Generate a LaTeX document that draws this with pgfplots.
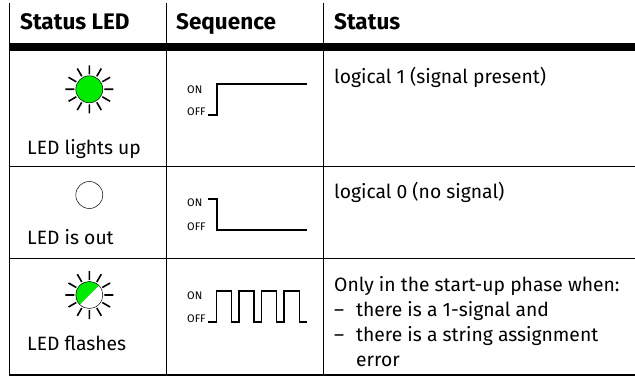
\documentclass[border=0pt]{standalone}
\usepackage{pgfplots}
\usepackage{fontspec}
\setmainfont{Fira Sans}
\pgfplotsset{compat=1.18}
\definecolor{ledgreen}{RGB}{0,235,0}
\tikzset{T/.style={inner sep=0pt,anchor=base west,font=\fontsize{#1}{#1}\selectfont},
  H/.style={inner sep=0pt,anchor=base west,font=\fontsize{22.5}{22.5}\selectfont\bfseries}}
\begin{document}
\begin{tikzpicture}
\path[use as bounding box] (0,0) rectangle (635pt,377pt);
\begin{axis}[at={(0,0)},anchor=south west,scale only axis,width=635pt,height=377pt,xmin=0,xmax=635,ymin=0,ymax=377,y dir=reverse,hide axis,clip=false,unbounded coords=jump]
% frame
\addplot[black,line width=0.9pt] coordinates {(9.5,3) (9.5,375)};
\addplot[black,line width=0.9pt] coordinates {(166.5,3) (166.5,375)};
\addplot[black,line width=0.9pt] coordinates {(323.5,3) (323.5,375)};
\addplot[black,line width=7.5pt] coordinates {(9,47) (635,47)};
\addplot[black,line width=0.9pt] coordinates {(9,166) (635,166)};
\addplot[black,line width=0.9pt] coordinates {(9,258.5) (635,258.5)};
\addplot[black,line width=2.8pt] coordinates {(9,375) (635,375)};
% LED 1
\addplot[black,line width=1.6pt] coordinates {
(104.3,89.3) (113.3,89.3) (0,nan) (102.3,96.8) (110.1,101.3) (0,nan) (96.8,102.3) (101.3,110.1) (0,nan) (89.3,104.3) (89.3,113.3) (0,nan)
(81.8,102.3) (77.3,110.1) (0,nan) (76.3,96.8) (68.5,101.3) (0,nan) (74.3,89.3) (65.3,89.3) (0,nan) (76.3,81.8) (68.5,77.3) (0,nan)
(81.8,76.3) (77.3,68.5) (0,nan) (89.3,74.3) (89.3,65.3) (0,nan) (96.8,76.3) (101.3,68.5) (0,nan) (102.3,81.8) (110.1,77.3)};
\addplot[only marks,mark=*,mark size=13.5pt,mark options={fill=ledgreen,draw=black,line width=0.5pt}] coordinates {(89.3,89.3)};
% LED 2
\addplot[only marks,mark=*,mark size=13.5pt,mark options={fill=white,draw=black,line width=0.5pt}] coordinates {(89.3,195)};
% LED 3
\addplot[black,line width=1.6pt] coordinates {
(104.3,295) (113.3,295) (0,nan) (102.3,302.5) (110.1,307) (0,nan) (96.8,308) (101.3,315.8) (0,nan) (89.3,310) (89.3,319) (0,nan)
(81.8,308) (77.3,315.8) (0,nan) (76.3,302.5) (68.5,307) (0,nan) (74.3,295) (65.3,295) (0,nan) (76.3,287.5) (68.5,283) (0,nan)
(81.8,282) (77.3,274.2) (0,nan) (89.3,280) (89.3,271) (0,nan) (96.8,282) (101.3,274.2) (0,nan) (102.3,287.5) (110.1,283)};
\addplot[only marks,mark=halfcircle*,mark size=13.5pt,mark color=ledgreen,mark options={fill=white,draw=black,line width=0.5pt,rotate=225}] coordinates {(89.3,295)};
% sequences
\addplot[black,line width=1.2pt] coordinates {(208,115) (217,115) (217,84) (307,84)};
\addplot[black,line width=1.2pt] coordinates {(208,199) (217,199) (217,230) (307,230)};
\addplot[black,line width=1.2pt] coordinates {(208,322) (216.7,322) (216.7,291) (231.7,291) (231.7,322) (239,322) (239,291) (254,291) (254,322) (261.7,322) (261.7,291) (276.7,291) (276.7,322) (284,322) (284,291) (299.3,291) (299.3,322) (307,322)};
\node[T=11] at (axis cs:187,94) {ON};
\node[T=11] at (axis cs:187,116) {OFF};
\node[T=11] at (axis cs:187,207) {ON};
\node[T=11] at (axis cs:187,230) {OFF};
\node[T=11] at (axis cs:187,299) {ON};
\node[T=11] at (axis cs:187,322) {OFF};
% text
\node[H] at (axis cs:20,30) {Status LED};
\node[H] at (axis cs:176,30) {Sequence};
\node[H] at (axis cs:334,30) {Status};
\node[T=19.3] at (axis cs:27,155) {LED lights up};
\node[T=19.3] at (axis cs:27,244) {LED is out};
\node[T=19.3] at (axis cs:27,350) {LED flashes};
\node[T=19.3] at (axis cs:334,84) {logical 1 (signal present)};
\node[T=19.3] at (axis cs:334,199) {logical 0 (no signal)};
\node[T=19.3] at (axis cs:334,291) {Only in the start-up phase when:};
\node[T=19.3] at (axis cs:334,316) {–};
\node[T=19.3] at (axis cs:356,316) {there is a 1-signal and};
\node[T=19.3] at (axis cs:334,341) {–};
\node[T=19.3] at (axis cs:356,341) {there is a string assignment};
\node[T=19.3] at (axis cs:356,366) {error};
\end{axis}
\end{tikzpicture}
\end{document}
